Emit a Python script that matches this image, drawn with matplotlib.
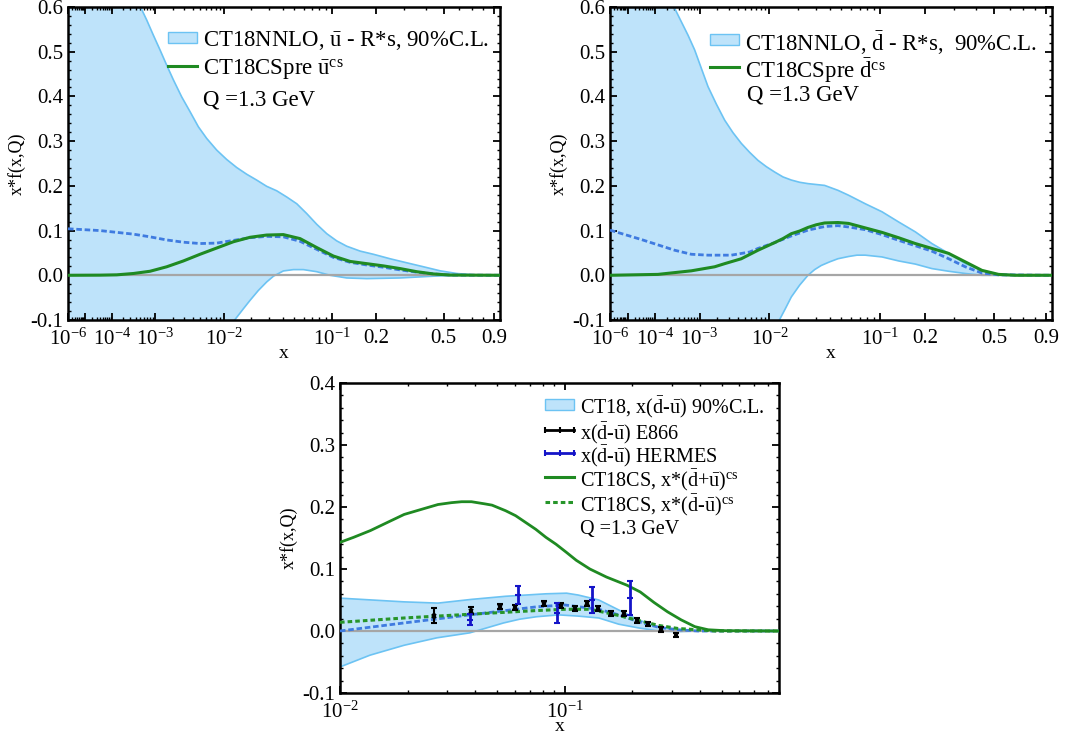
import numpy as np
import matplotlib
matplotlib.use("Agg")
import matplotlib.pyplot as plt
from matplotlib.patches import Rectangle
from matplotlib.ticker import FixedLocator, FixedFormatter, MultipleLocator, LogLocator, NullFormatter

plt.rcParams.update({
    "font.family": ["Liberation Serif", "DejaVu Serif"],
    "mathtext.fontset": "custom",
    "mathtext.rm": "Liberation Serif",
    "mathtext.it": "Liberation Serif:italic",
    "mathtext.bf": "Liberation Serif:bold",
    "axes.unicode_minus": False,
    "axes.linewidth": 1.8,
    "xtick.direction": "in", "ytick.direction": "in",
    "xtick.top": True, "ytick.right": True,
    "xtick.major.size": 5, "ytick.major.size": 5,
    "xtick.minor.size": 2.5, "ytick.minor.size": 2.5,
    "xtick.major.width": 1.3, "ytick.major.width": 1.3,
    "xtick.minor.width": 1.0, "ytick.minor.width": 1.0,
    "xtick.major.pad": 6.5,
    "xtick.labelsize": 15, "ytick.labelsize": 15,
})

BAND_FC, BAND_EC = "#BEE3FA", "#6CC3F3"
CT_BLUE, CS_GREEN = "#3F7BE0", "#1F8A22"

# --- top left: ubar ---------------------------------------------------------
UB_UP_X = [1e-6, 4e-5, 2.43e-4, 5.2e-4, 6.76e-4, 9.12e-4, 1.21e-3, 1.58e-3, 2.04e-3, 2.75e-3,
           3.65e-3, 4.78e-3, 6.16e-3, 8.22e-3, 1.08e-2, 1.40e-2, 1.79e-2, 2.26e-2, 2.83e-2,
           3.51e-2, 4.32e-2, 5.26e-2, 6.36e-2, 7.64e-2, 9.12e-2, 0.108, 0.1275, 0.158, 0.193,
           0.246, 0.310, 0.388, 0.479, 0.587, 0.714, 0.96]
UB_UP_Y = [0.97, 0.81, 0.668, 0.597, 0.571, 0.537, 0.504, 0.470, 0.437, 0.399,
           0.366, 0.332, 0.306, 0.280, 0.259, 0.241, 0.226, 0.213, 0.199,
           0.189, 0.175, 0.160, 0.138, 0.114, 0.093, 0.077, 0.065, 0.054, 0.047,
           0.037, 0.028, 0.019, 0.010, 0.004, 0.001, 0.0]
UB_LO_X = [1e-6, 1.58e-3, 5.03e-3, 8.22e-3, 1.34e-2, 1.65e-2, 1.94e-2, 2.35e-2, 2.83e-2, 3.28e-2,
           4.03e-2, 4.93e-2, 5.97e-2, 7.64e-2, 9.65e-2, 0.1275, 0.1747, 0.2834, 0.4406, 0.587, 0.96]
UB_LO_Y = [-0.75, -0.33, -0.213, -0.157, -0.099, -0.075, -0.056, -0.034, -0.015, -0.002,
           0.0097, 0.0127, 0.0127, 0.008, 0.0, -0.006, -0.0075, -0.006, -0.002, 0.0, 0.0]
UB_CT_X = [1e-6, 4.0e-5, 3.5e-4, 7.86e-4, 1.58e-3, 2.91e-3, 5.03e-3, 8.22e-3, 1.287e-2, 1.94e-2,
           2.83e-2, 4.03e-2, 5.61e-2, 7.64e-2, 0.1022, 0.1346, 0.1747, 0.2237, 0.2834, 0.355,
           0.4406, 0.5417, 0.96]
UB_CT_Y = [0.104, 0.100, 0.092, 0.086, 0.079, 0.074, 0.071, 0.072, 0.078, 0.084,
           0.087, 0.086, 0.076, 0.058, 0.040, 0.029, 0.023, 0.018, 0.012, 0.007,
           0.003, 0.0005, 0.0]
UB_CS_X = [1e-6, 4.0e-5, 1.33e-4, 3.5e-4, 7.86e-4, 1.58e-3, 2.91e-3, 5.03e-3, 8.22e-3, 1.287e-2,
           1.94e-2, 2.83e-2, 4.03e-2, 5.61e-2, 7.64e-2, 0.1022, 0.1346, 0.1747, 0.2237, 0.2834,
           0.355, 0.4406, 0.5417, 0.96]
UB_CS_Y = [0.0, 0.0003, 0.001, 0.004, 0.009, 0.019, 0.032, 0.047, 0.061, 0.075,
           0.085, 0.090, 0.091, 0.082, 0.062, 0.043, 0.031, 0.026, 0.021, 0.015,
           0.008, 0.003, 0.0005, 0.0]

# --- top right: dbar --------------------------------------------------------
DB_UP_X = [1e-6, 1.18e-4, 3.12e-4, 4.38e-4, 6.03e-4, 8.13e-4, 1.078e-3, 1.409e-3, 1.93e-3, 2.597e-3,
           3.435e-3, 4.478e-3, 5.758e-3, 7.32e-3, 9.197e-3, 1.144e-2, 1.411e-2, 1.727e-2, 2.096e-2,
           2.524e-2, 3.02e-2, 3.591e-2, 4.681e-2, 5.73e-2, 7.74e-2, 0.103, 0.135, 0.174, 0.221,
           0.279, 0.348, 0.430, 0.527, 0.96]
DB_UP_Y = [0.90, 0.672, 0.597, 0.567, 0.537, 0.504, 0.463, 0.422, 0.383, 0.347,
           0.319, 0.295, 0.275, 0.257, 0.243, 0.231, 0.220, 0.213, 0.208,
           0.205, 0.203, 0.201, 0.190, 0.179, 0.160, 0.142, 0.119, 0.097, 0.071,
           0.049, 0.026, 0.011, 0.002, 0.0]
DB_LO_X = [1e-6, 1.409e-3, 4.478e-3, 9.28e-3, 1.30e-2, 1.494e-2, 1.727e-2, 2.096e-2, 2.524e-2,
           2.915e-2, 3.353e-2, 3.973e-2, 4.681e-2, 5.73e-2, 6.677e-2, 7.74e-2, 0.103, 0.135,
           0.174, 0.221, 0.279, 0.348, 0.430, 0.96]
DB_LO_Y = [-0.80, -0.36, -0.25, -0.157, -0.099, -0.075, -0.0485, -0.022, 0.0,
           0.0127, 0.022, 0.030, 0.037, 0.042, 0.045, 0.045, 0.041, 0.032,
           0.025, 0.015, 0.009, 0.004, 0.0, 0.0]
DB_CT_X = [1e-6, 3.56e-5, 3.12e-4, 7.02e-4, 1.409e-3, 3.252e-3, 5.758e-3, 7.32e-3, 1.144e-2,
           1.727e-2, 2.524e-2, 3.591e-2, 4.681e-2, 5.73e-2, 7.74e-2, 0.103, 0.135, 0.174, 0.221,
           0.279, 0.348, 0.430, 0.527, 0.96]
DB_CT_Y = [0.101, 0.080, 0.056, 0.047, 0.045, 0.045, 0.052, 0.060, 0.073,
           0.088, 0.101, 0.109, 0.111, 0.108, 0.102, 0.091, 0.078, 0.066, 0.054,
           0.037, 0.019, 0.005, 0.001, 0.0]
DB_CS_X = [1e-6, 1.18e-4, 3.12e-4, 7.02e-4, 1.815e-3, 2.597e-3, 4.478e-3, 7.32e-3, 1.144e-2,
           1.411e-2, 1.727e-2, 2.096e-2, 2.524e-2, 3.02e-2, 3.59e-2, 4.68e-2, 5.73e-2, 7.74e-2,
           0.1028, 0.1345, 0.1737, 0.2213, 0.2789, 0.3478, 0.4298, 0.5265, 0.64, 0.96]
DB_CS_Y = [0.0, 0.002, 0.006, 0.010, 0.019, 0.026, 0.037, 0.056, 0.073,
           0.082, 0.093, 0.099, 0.107, 0.113, 0.117, 0.118, 0.116, 0.106,
           0.096, 0.084, 0.071, 0.060, 0.049, 0.030, 0.011, 0.002, 0.0, 0.0]

# --- bottom: dbar - ubar ----------------------------------------------------
DU_UP_X = [0.01, 0.0193, 0.0273, 0.0385, 0.0546, 0.0826, 0.102, 0.115, 0.142, 0.174,
           0.213, 0.262, 0.32, 0.41, 0.9]
DU_UP_Y = [0.053, 0.047, 0.045, 0.051, 0.056, 0.060, 0.061, 0.058, 0.050, 0.034,
           0.018, 0.006, 0.002, 0.0, 0.0]
DU_LO_X = [0.01, 0.0136, 0.0193, 0.027, 0.0378, 0.045, 0.0535, 0.063, 0.075, 0.094,
           0.115, 0.142, 0.174, 0.213, 0.262, 0.32, 0.39, 0.9]
DU_LO_Y = [-0.058, -0.039, -0.023, -0.011, -0.003, 0.005, 0.013, 0.019, 0.023, 0.026,
           0.024, 0.021, 0.011, 0.005, 0.0, -0.001, 0.0, 0.0]
DU_CT_X = [0.01, 0.0193, 0.0378, 0.075, 0.1, 0.142, 0.174, 0.213, 0.262, 0.32, 0.39, 0.9]
DU_CT_Y = [0.0, 0.013, 0.026, 0.039, 0.042, 0.035, 0.026, 0.015, 0.006, 0.002, 0.0, 0.0]
DU_CS_X = [0.01, 0.0193, 0.0378, 0.075, 0.1, 0.13, 0.174, 0.213, 0.262, 0.32, 0.39, 0.47, 0.9]
DU_CS_Y = [0.014, 0.021, 0.027, 0.033, 0.035, 0.035, 0.025, 0.017, 0.009, 0.004, 0.002, 0.0, 0.0]
DPU_CS_X = [0.01, 0.01148, 0.01366, 0.01623, 0.0193, 0.02294, 0.0273, 0.03135, 0.0348, 0.0385,
            0.0442, 0.0475, 0.0546, 0.0605, 0.0671, 0.0744, 0.0826, 0.0915, 0.1017, 0.1127,
            0.1295, 0.1536, 0.189, 0.217, 0.250, 0.287, 0.33, 0.38, 0.435, 0.52, 0.9]
DPU_CS_Y = [0.143, 0.151, 0.162, 0.175, 0.188, 0.196, 0.204, 0.207, 0.2085, 0.2085,
            0.205, 0.203, 0.194, 0.186, 0.175, 0.164, 0.151, 0.140, 0.127, 0.114,
            0.100, 0.087, 0.074, 0.063, 0.046, 0.031, 0.018, 0.007, 0.002, 0.0005, 0.0]

E866_X = [0.0261, 0.0382, 0.0518, 0.060, 0.081, 0.0965, 0.111, 0.126, 0.141, 0.161,
          0.183, 0.210, 0.234, 0.268, 0.313]
E866_Y = [0.025, 0.033, 0.039, 0.038, 0.044, 0.041, 0.037, 0.045, 0.037, 0.029,
          0.029, 0.017, 0.011, 0.003, -0.006]
E866_ERR = [0.012, 0.005, 0.004, 0.004, 0.004, 0.004, 0.004, 0.004, 0.004, 0.004,
            0.004, 0.004, 0.003, 0.004, 0.003]
HERM_X = [0.0378, 0.062, 0.092, 0.132, 0.196]
HERM_Y = [0.018, 0.058, 0.029, 0.050, 0.053]
HERM_ERR = [0.009, 0.015, 0.016, 0.021, 0.027]

TOP_TICKS = [1e-6, 1e-5, 1e-4, 1e-3, 1e-2, 1e-1, 0.2, 0.5, 0.9]
TOP_TICKLABELS = [r"$10^{-6}$", "", r"$10^{-4}$", r"$10^{-3}$", r"$10^{-2}$", r"$10^{-1}$",
                  "0.2", "0.5", "0.9"]

W, H = 1067, 738
fig = plt.figure(figsize=(W / 100, H / 100), dpi=100)


def px_axes(l, t, r, b):
    return fig.add_axes([l / W, 1 - b / H, (r - l) / W, (b - t) / H])


def band(ax, xu, yu, xl, yl):
    ax.fill(np.r_[xu, xl[::-1]], np.r_[yu, yl[::-1]], fc=BAND_FC, ec="none", zorder=1)
    ax.plot(xu, yu, color=BAND_EC, lw=1.2, zorder=2)
    ax.plot(xl, yl, color=BAND_EC, lw=1.2, zorder=2)
    ax.axhline(0, color="#A6A6A6", lw=1.6, zorder=2.5)


def key(ax, row_y, kind, label, x0, fs, color=None, ls="-"):
    """one hand-made legend row, positions in axes fraction"""
    bb = ax.get_window_extent()
    w, h = 29 / bb.width, 11 / bb.height
    if kind == "band":
        ax.add_patch(Rectangle((x0, row_y - h / 2), w, h, transform=ax.transAxes,
                               fc=BAND_FC, ec=BAND_EC, lw=1.0, clip_on=False, zorder=5))
    elif kind == "line":
        ax.plot([x0, x0 + w], [row_y, row_y], transform=ax.transAxes, color=color,
                lw=2.2, ls=ls, clip_on=False, zorder=5)
    elif kind == "err":
        ax.plot([x0, x0 + w / 2, x0 + w], [row_y] * 3, transform=ax.transAxes, color=color,
                lw=2.0, marker="|", ms=4, mew=1.5, clip_on=False, zorder=5)
    ax.text(x0 + w + 6 / bb.width, row_y, label, transform=ax.transAxes, fontsize=fs,
            va="center_baseline", ha="left")


def style_top(ax):
    ax.set_xscale("function", functions=(lambda x: np.power(np.clip(x, 1e-12, None), 0.2),
                                         lambda y: np.power(np.clip(y, 0, None), 5)))
    ax.set_xlim(1e-6, 0.96)
    ax.set_ylim(-0.1, 0.6)
    ax.xaxis.set_major_locator(FixedLocator(TOP_TICKS))
    ax.xaxis.set_major_formatter(FixedFormatter(TOP_TICKLABELS))
    minors = [k * 10.0 ** e for e in range(-6, -1) for k in range(2, 10)] + [0.3, 0.4, 0.6, 0.7, 0.8]
    ax.xaxis.set_minor_locator(FixedLocator(minors))
    ax.yaxis.set_major_locator(MultipleLocator(0.1))
    ax.yaxis.set_minor_locator(MultipleLocator(0.02))
    ax.yaxis.set_major_formatter(lambda v, p: f"{v:.1f}")
    ax.set_xlabel("x", fontsize=14, labelpad=-4)
    ax.set_ylabel("x*f(x,Q)", fontsize=13, labelpad=3)


# top left
ax1 = px_axes(68, 7, 500, 320)
band(ax1, UB_UP_X, UB_UP_Y, UB_LO_X, UB_LO_Y)
ax1.plot(UB_CT_X, UB_CT_Y, color=CT_BLUE, lw=2, ls=(0, (2, 1)), zorder=3)
ax1.plot(UB_CS_X, UB_CS_Y, color=CS_GREEN, lw=2.2, zorder=4)
style_top(ax1)
key(ax1, 0.901, "band", r"CT18NNLO, $\bar{\mathrm{u}}$ - R*s, 90%C.L.", 0.2315, 16.4)
key(ax1, 0.811, "line", r"CT18CSpre $\bar{\mathrm{u}}^{\mathrm{cs}}$", 0.2315, 16.4, CS_GREEN)
ax1.text(0.2315 + 35 / 432, 0.712, "Q =1.3 GeV", transform=ax1.transAxes, fontsize=16.4,
         va="center_baseline")

# top right
ax2 = px_axes(610, 7, 1052, 320)
band(ax2, DB_UP_X, DB_UP_Y, DB_LO_X, DB_LO_Y)
ax2.plot(DB_CT_X, DB_CT_Y, color=CT_BLUE, lw=2, ls=(0, (2, 1)), zorder=3)
ax2.plot(DB_CS_X, DB_CS_Y, color=CS_GREEN, lw=2.2, zorder=4)
style_top(ax2)
key(ax2, 0.895, "band", r"CT18NNLO, $\bar{\mathrm{d}}$ - R*s,  90%C.L.", 0.226, 16.4)
key(ax2, 0.808, "line", r"CT18CSpre $\bar{\mathrm{d}}^{\mathrm{cs}}$", 0.226, 16.4, CS_GREEN)
ax2.text(0.226 + 37 / 442, 0.728, "Q =1.3 GeV", transform=ax2.transAxes, fontsize=16.4,
         va="center_baseline")

# bottom
ax3 = px_axes(340, 383, 779, 693)
band(ax3, DU_UP_X, DU_UP_Y, DU_LO_X, DU_LO_Y)
ax3.plot(DU_CT_X, DU_CT_Y, color=CT_BLUE, lw=2, ls=(0, (2, 1)), zorder=3)
ax3.plot(DU_CS_X, DU_CS_Y, color="#27952A", lw=2.2, ls=(0, (1.5, 1)), zorder=3.5)
ax3.plot(DPU_CS_X, DPU_CS_Y, color=CS_GREEN, lw=2, zorder=4)
ax3.errorbar(E866_X, E866_Y, yerr=E866_ERR, fmt="x", ms=3, mew=1.5, color="black",
             ecolor="black", elinewidth=1.5, capsize=2.5, capthick=1.5, zorder=6)
ax3.errorbar(HERM_X, HERM_Y, yerr=HERM_ERR, fmt="_", ms=5, mew=1.5, color="#1414C8",
             ecolor="#1414C8", elinewidth=2, capsize=2.5, capthick=1.5, zorder=6)
ax3.set_xscale("log")
ax3.set_xlim(0.01, 0.9)
ax3.set_ylim(-0.1, 0.4)
ax3.xaxis.set_major_locator(FixedLocator([0.01, 0.1]))
ax3.xaxis.set_major_formatter(FixedFormatter([r"$10^{-2}$", r"$10^{-1}$"]))
ax3.xaxis.set_minor_locator(LogLocator(base=10, subs=np.arange(2, 10)))
ax3.xaxis.set_minor_formatter(NullFormatter())
ax3.yaxis.set_major_locator(MultipleLocator(0.1))
ax3.yaxis.set_minor_locator(MultipleLocator(0.02))
ax3.yaxis.set_major_formatter(lambda v, p: f"{v:.1f}")
ax3.set_xlabel("x", fontsize=14, labelpad=-4)
ax3.set_ylabel("x*f(x,Q)", fontsize=13, labelpad=3)

bx, bfs = 0.467, 14.5
key(ax3, 0.932, "band", r"CT18, x($\bar{\mathrm{d}}$-$\bar{\mathrm{u}}$) 90%C.L.", bx, bfs)
key(ax3, 0.848, "err", r"x($\bar{\mathrm{d}}$-$\bar{\mathrm{u}}$) E866", bx, bfs, "black")
key(ax3, 0.774, "err", r"x($\bar{\mathrm{d}}$-$\bar{\mathrm{u}}$) HERMES", bx, bfs, "#1414C8")
key(ax3, 0.697, "line", r"CT18CS, x*($\bar{\mathrm{d}}$+$\bar{\mathrm{u}}$)$^{\mathrm{cs}}$",
    bx, bfs, CS_GREEN)
key(ax3, 0.616, "line", r"CT18CS, x*($\bar{\mathrm{d}}$-$\bar{\mathrm{u}}$)$^{\mathrm{cs}}$",
    bx, bfs, "#27952A", ls=(0, (1.5, 1)))
ax3.text(bx + 35 / 439, 0.535, "Q =1.3 GeV", transform=ax3.transAxes, fontsize=bfs,
         va="center_baseline")

fig.savefig("out.png", dpi=100)
